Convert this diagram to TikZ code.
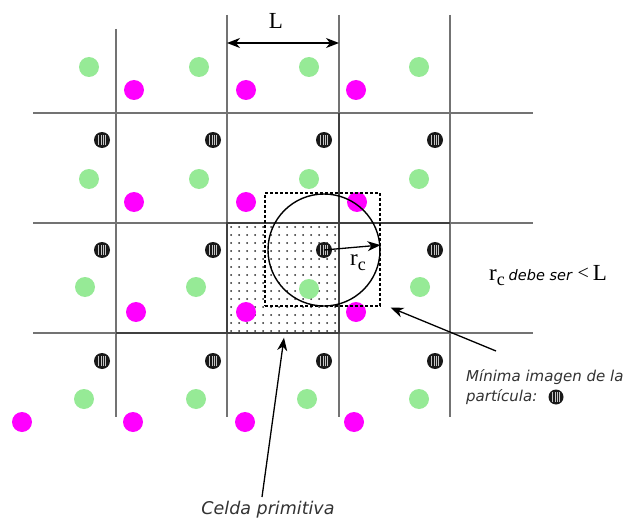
\documentclass[tikz,border=0pt]{standalone}
\usepackage{fontspec}
\setmainfont{Liberation Serif}
\newfontfamily\dv{DejaVu Sans}
\usetikzlibrary{arrows.meta}
\definecolor{pgreen}{RGB}{150,234,150}
\definecolor{pmag}{RGB}{255,0,255}
\begin{document}
\begin{tikzpicture}[x=1pt,y=-1pt,
  >={Stealth[length=13pt,width=10pt,inset=4pt]},
  gridl/.style={draw=black!55,line width=1.1pt},
  gridd/.style={draw=black!75,line width=1.4pt},
  gp/.style={circle,fill=pgreen,minimum size=20pt,inner sep=0pt},
  mp/.style={circle,fill=pmag,minimum size=20pt,inner sep=0pt},
  bp/.style={circle,fill=black!90,minimum size=16pt,inner sep=0pt,
    path picture={\foreach \d in {-3.6,-1.2,1.2,3.6}{\draw[gray!45,line width=0.35pt]
      ([xshift=\d pt,yshift=-5pt]path picture bounding box.center) --
      ([xshift=\d pt,yshift=5pt]path picture bounding box.center);}}},
  arr/.style={->,line width=1.3pt},
  lbl/.style={font=\dv\itshape\fontsize{15}{20}\selectfont,text=black!80,inner sep=0pt}
]
\useasboundingbox[fill=white] (0,0) rectangle (627,519);

% grid
\foreach \y in {113,223,333} \draw[gridl] (33,\y) -- (533,\y);
\draw[gridl] (116,29) -- (116,417);
\foreach \x in {227,339,450} \draw[gridl] (\x,15) -- (\x,417);
\draw[gridd] (116,333) -- (339,333);
\draw[gridd] (339,113) -- (339,223) -- (450,223);

% primitive cell with dots
\node[draw=black!75,line width=1.4pt,minimum width=112pt,minimum height=110pt,inner sep=0pt] (cell) at (283,278) {};
\foreach \i in {0,...,13}
  \foreach \j in {0,...,13}
    \fill[black!85] (231+8*\i,227+8*\j) circle (1);

% particles
\foreach \x [count=\i] in {102,213,324,435}
  \foreach \y [count=\j] in {140,250,361}
    \node[bp] (b\i\j) at (\x,\y) {};
\foreach \x [count=\i] in {89,199,309,419} \node[gp] (ga\i) at (\x,67) {};
\foreach \x [count=\i] in {89,199,309,419} \node[gp] (gb\i) at (\x,179) {};
\foreach \x/\y [count=\i] in {85/287,196/287,309/289,420/287} \node[gp] (gc\i) at (\x,\y) {};
\foreach \x [count=\i] in {84,196,307,419} \node[gp] (gd\i) at (\x,399) {};
\foreach \x [count=\i] in {134,246,356} \node[mp] (ma\i) at (\x,90) {};
\foreach \x [count=\i] in {134,246,357} \node[mp] (mb\i) at (\x,202) {};
\foreach \x [count=\i] in {136,246,356} \node[mp] (mc\i) at (\x,312) {};
\foreach \x [count=\i] in {22,133,245,354} \node[mp] (md\i) at (\x,422) {};

% minimum image box and cutoff circle
\node[draw,densely dashed,line width=1.1pt,minimum width=115pt,minimum height=113pt,inner sep=0pt] (img) at (322.5,249.5) {};
\node[draw,circle,line width=1.4pt,minimum size=112pt,inner sep=0pt] (cut) at (b32.center) {};
\draw[arr] (b32.center) -- (cut.5);
\node (rc) at (358,263) {\fontsize{23}{23}\selectfont r\raisebox{-5pt}{\fontsize{18}{18}\selectfont c}};

% L
\coordinate (La) at (227,43);
\coordinate (Lb) at (339,43);
\draw[<->,line width=1.6pt] (La) -- (Lb);
\node (L) at (276,21) {\fontsize{23}{23}\selectfont L};

% rule
\node[anchor=west,inner sep=0pt] (rule) at (489,276) {\fontsize{23}{23}\selectfont r\raisebox{-5pt}{\fontsize{18}{18}\selectfont c}\,{\dv\itshape\fontsize{14.5}{14.5}\selectfont debe ser} \raisebox{1pt}{\fontsize{20}{20}\selectfont <}\,L};

% labels
\node[lbl,anchor=west] (mi1) at (466,377) {Mínima imagen de la};
\node[lbl,anchor=west] (mi2) at (466,397) {partícula:};
\node[bp,minimum size=15pt] (sym) at (556,397) {};
\coordinate (a1) at (496,351);
\draw[arr] (a1) -- ([shift={(10,1)}]img.south east);

\node[lbl,font=\dv\itshape\fontsize{17.5}{20}\selectfont] (celda) at (268,510) {Celda primitiva};
\coordinate (a2) at (262,497);
\draw[arr] (a2) -- ([shift={(1,4)}]cell.south);
\end{tikzpicture}
\end{document}
